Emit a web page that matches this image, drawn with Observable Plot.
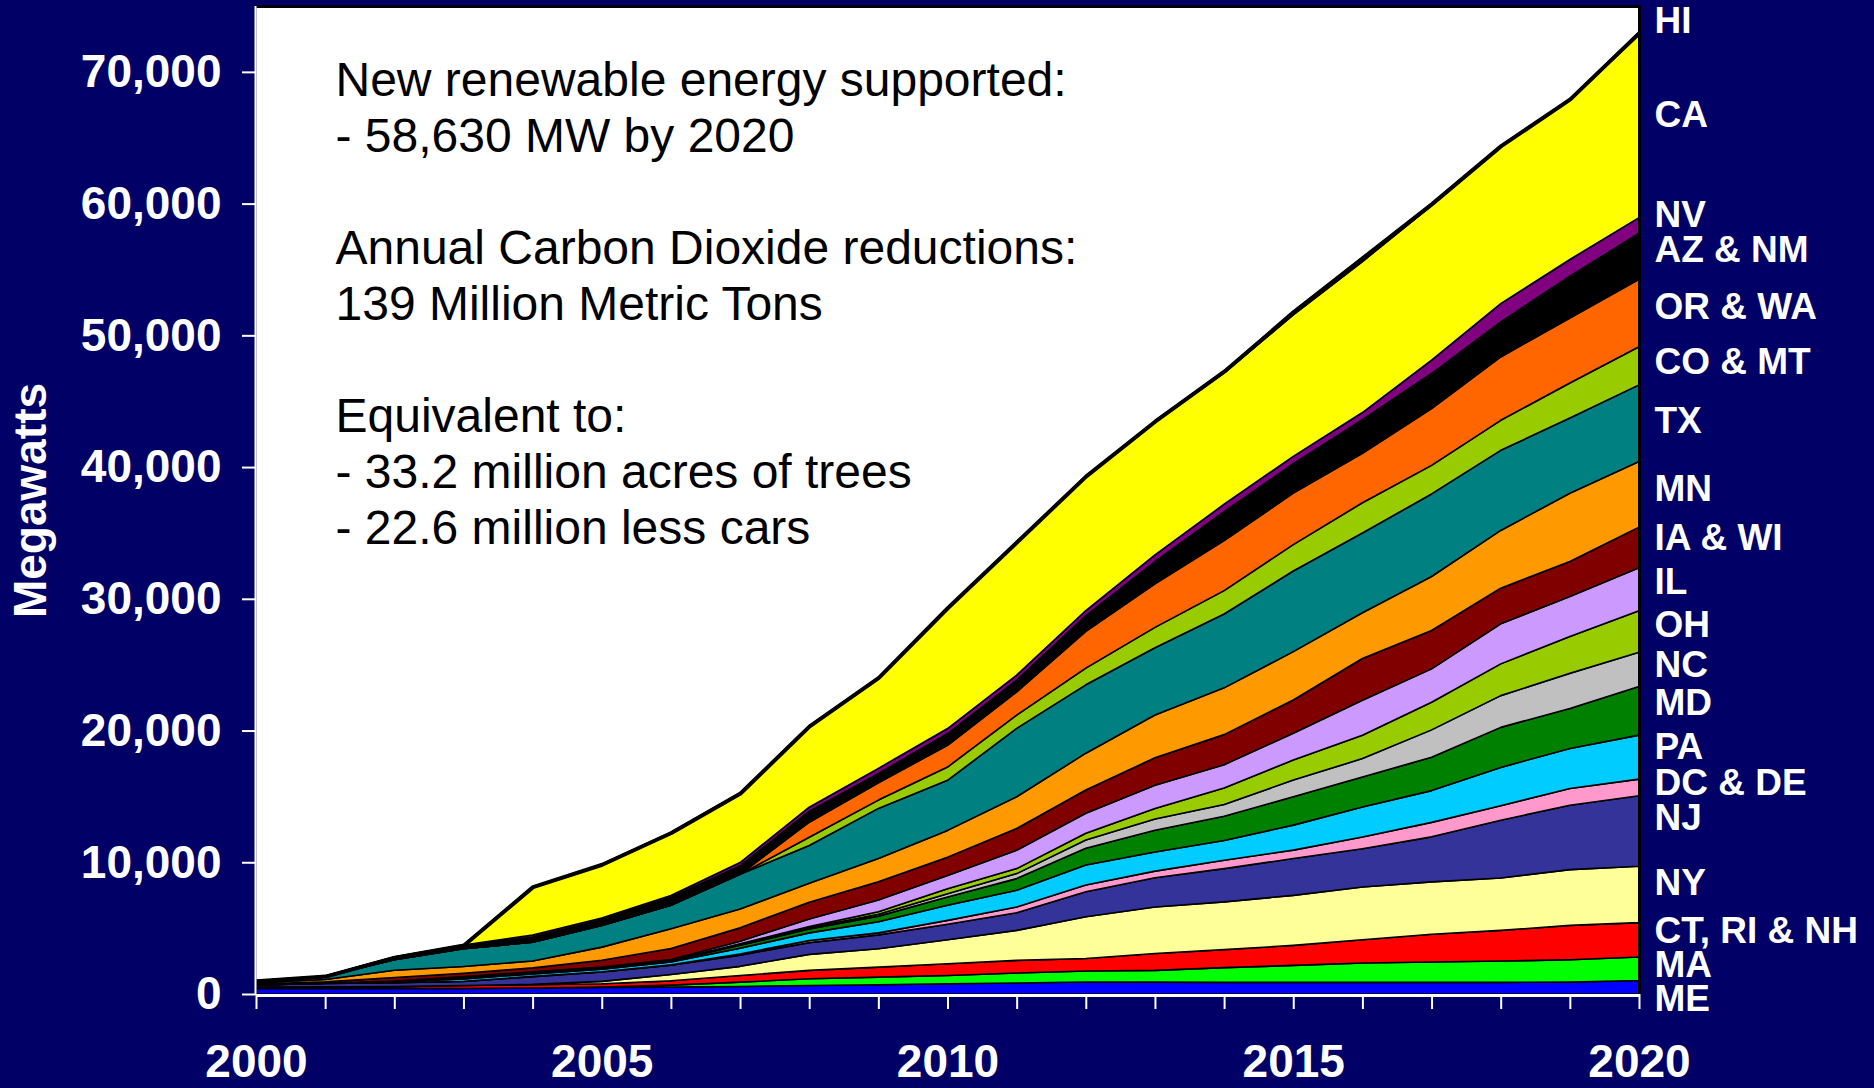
<!DOCTYPE html>
<html>
<head>
<meta charset="utf-8">
<script src="https://cdn.jsdelivr.net/npm/d3@7"></script>
<script src="https://cdn.jsdelivr.net/npm/@observablehq/plot@0.6"></script>
<style>
  html, body { margin: 0; padding: 0; background: #000066; overflow: hidden; }
  #chart svg { display: block; }
</style>
</head>
<body>
<div id="chart"></div>
<script>
// ---- data (MW added per year, per state group, bottom to top) ----
const years = [2000,2001,2002,2003,2004,2005,2006,2007,2008,2009,2010,2011,2012,2013,2014,2015,2016,2017,2018,2019,2020];
const labelYears = [2000, 2005, 2010, 2015, 2020];
const yTicks = [0, 10000, 20000, 30000, 40000, 50000, 60000, 70000];

const states = ["ME","MA","CT, RI & NH","NY","NJ","DC & DE","PA","MD","NC","OH","IL","IA & WI","MN","TX","CO & MT","OR & WA","AZ & NM","NV","CA","HI"];
const stateColors = ["#0000FF","#00FF00","#FF0000","#FFFF99","#333399","#FF99CC","#00CCFF","#008000","#C0C0C0","#99CC00","#CC99FF","#800000","#FF9900","#008080","#99CC00","#FF6600","#000000","#800080","#FFFF00","#FFFFFF"];

const ME       = [420,430,430,420,460,490,520,570,650,700,780,830,910,900,880,880,880,880,880,900,1030];
const MA       = [0,0,0,0,0,30,150,330,510,580,630,760,840,890,1120,1290,1470,1550,1620,1700,1780];
const CT_RI_NH = [100,120,130,220,240,260,330,500,630,760,890,960,940,1290,1370,1520,1770,2100,2330,2610,2610];
const NY       = [0,0,0,0,40,180,480,700,1220,1390,1820,2280,3170,3530,3620,3800,4000,3980,3980,4230,4280];
const NJ       = [160,250,300,310,580,710,700,850,890,1060,1170,1340,1900,2210,2530,2790,2910,3420,4380,4890,5350];
const DC_DE    = [0,0,0,20,20,20,30,90,160,150,300,430,510,510,630,640,890,1100,1100,1270,1260];
const PA       = [0,20,90,180,180,190,230,440,580,840,1140,1270,1520,1450,1500,1900,2280,2410,2910,3040,3340];
const MD       = [0,0,0,50,40,50,70,220,300,430,630,890,1270,1650,1850,2150,2280,2530,3040,3040,3690];
const NC       = [0,0,0,20,20,20,20,60,80,150,250,380,630,850,890,1270,1390,2080,2410,2660,2600];
const OH       = [0,0,0,20,20,20,20,60,100,180,380,380,510,800,1250,1520,1770,2100,2410,2790,3150];
const IL       = [0,0,30,90,80,70,70,190,580,890,1010,1390,1520,1770,1770,2030,2660,2530,3040,3040,3260];
const IA_WI    = [70,100,270,250,300,520,830,1010,1270,1390,1390,1650,1770,2080,2280,2530,3170,2910,2710,2660,3090];
const MN       = [100,180,550,510,530,1000,1510,1430,1440,1770,2030,2410,2790,3250,3550,3670,3470,4100,4380,5180,4990];
const TX       = [150,240,800,1350,1420,1650,1770,2630,2860,3800,3800,5190,5190,5100,5610,6120,6050,6270,6080,5710,5810];
const CO_MT    = [0,0,0,0,0,0,0,0,630,630,1010,1010,1270,1550,1770,2000,2300,2170,2280,2660,2890];
const OR_WA    = [0,0,0,0,0,0,0,0,1140,1320,1650,1770,2790,3300,3800,3910,3750,4310,4810,4940,5130];
const AZ_NM    = [0,10,130,200,400,420,600,650,840,710,890,890,1200,1700,2200,2230,2550,2660,2660,3170,3490];
const NV       = [0,10,70,80,150,140,150,250,300,380,380,380,380,500,560,560,550,1010,1390,1270,1190];
const CA       = [0,0,0,0,3670,4080,4780,5280,6170,6850,9110,10040,10140,10090,9970,10740,11460,11740,11890,12090,13860];
const HI       = [0,0,0,0,0,0,0,0,0,50,80,80,80,80,150,250,300,150,100,100,200];

// right-hand labels and their vertical positions (in MW)
const labelNames = ["HI","CA","NV","AZ & NM","OR & WA","CO & MT","TX","MN","IA & WI","IL","OH","NC","MD","PA","DC & DE","NJ","NY","CT, RI & NH","MA","ME"];
const labelMW    = [73870,66760,59160,56500,52170,47990,43510,38340,34620,31280,28010,24970,22090,18740,16080,13350,8480,4830,2250,-330];

const annotation = [
  "New renewable energy supported:",
  "- 58,630 MW by 2020",
  "\u00A0",
  "Annual Carbon Dioxide reductions:",
  "139 Million Metric Tons",
  "\u00A0",
  "Equivalent to:",
  "- 33.2 million acres of trees",
  "- 22.6 million less cars"
].join("\n");

// ---- build table ----
const series = [ME, MA, CT_RI_NH, NY, NJ, DC_DE, PA, MD, NC, OH, IL, IA_WI, MN, TX, CO_MT, OR_WA, AZ_NM, NV, CA, HI];
const tidy = [];
series.forEach((arr, si) => arr.forEach((v, i) => tidy.push({year: years[i], state: states[si], value: v})));
const totals = years.map((_, i) => d3.sum(series, s => s[i]));

const chart = Plot.plot({
  width: 1874,
  height: 1088,
  marginTop: 6,
  marginRight: 235,
  marginBottom: 94,
  marginLeft: 256,
  x: {domain: [2000, 2020]},
  y: {domain: [0, 75000]},
  color: {domain: states, range: stateColors},
  style: {
    background: "#000066",
    fontFamily: "'Liberation Sans', Arial, sans-serif",
    fontWeight: "bold",
    overflow: "visible"
  },
  marks: [
    Plot.frame({fill: "white", stroke: null}),
    Plot.areaY(tidy, {x: "year", y: "value", z: "state", fill: "state", stroke: "black", strokeWidth: 1.6, strokeLinejoin: "round", order: states}),
    Plot.lineY(years, {x: years, y: totals, stroke: "black", strokeWidth: 4, strokeLinejoin: "round"}),
    Plot.ruleY([75000], {stroke: "black", strokeWidth: 3}),
    Plot.ruleX([2020], {stroke: "black", strokeWidth: 3}),
    Plot.ruleX([2000], {stroke: "white", strokeWidth: 2, dx: -1}),
    Plot.ruleY([0], {stroke: "white", strokeWidth: 3, dy: 1}),
    Plot.axisY({ticks: yTicks, tickSize: 14, tickPadding: 21, tickFormat: d3.format(","), fontSize: 46, color: "white", strokeWidth: 2, label: null}),
    Plot.axisX({ticks: years, tickSize: 15, tickFormat: () => "", color: "white", strokeWidth: 2, label: null}),
    Plot.axisX({ticks: labelYears, tickSize: 0, tickPadding: 50, tickFormat: d => String(d), fontSize: 46, color: "white", label: null}),
    Plot.text([annotation], {frameAnchor: "top-left", textAnchor: "start", dx: 79, dy: 50, fontSize: 48, fontWeight: "normal", fill: "black", lineHeight: 1.1667}),
    Plot.text(labelNames, {y: labelMW, frameAnchor: "right", textAnchor: "start", dx: 15, fill: "white", fontSize: 37}),
    Plot.text(["Megawatts"], {frameAnchor: "left", textAnchor: "middle", lineAnchor: "middle", rotate: -90, dx: -225, fill: "white", fontSize: 46})
  ]
});
document.getElementById("chart").appendChild(chart);
</script>
</body>
</html>
